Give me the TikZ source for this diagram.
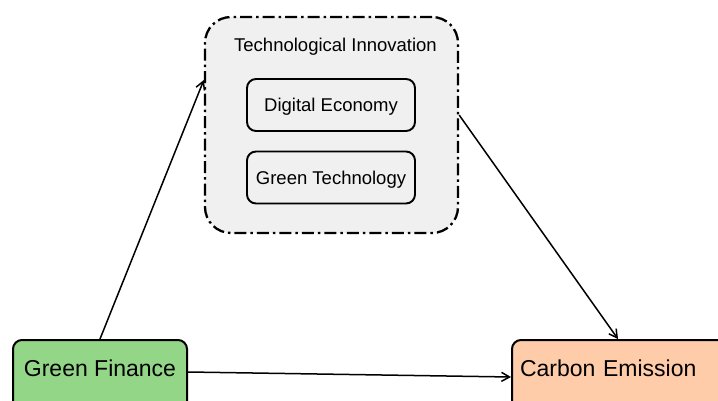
\documentclass[tikz,border=0pt]{standalone}
\usepackage{fontspec}
\setmainfont{Liberation Sans}
\usetikzlibrary{arrows.meta}
\definecolor{finance}{HTML}{93D687}
\definecolor{emission}{HTML}{FFCCAA}
\definecolor{innov}{HTML}{F0F0F0}
\begin{document}
\begin{tikzpicture}[x=1pt,y=-1pt,>={Straight Barb[length=8pt,width=9pt]},
  bigbox/.style={draw,line width=2pt,rounded corners=9pt,font=\fontsize{23}{26}\selectfont,
    text height=12pt,text depth=12pt,minimum height=72pt},
  subbox/.style={draw,line width=1.9pt,rounded corners=9pt,fill=innov,font=\fontsize{18.5}{21}\selectfont,
    minimum width=168pt,minimum height=52pt,text height=14pt,text depth=0pt}]
 	\useasboundingbox (0,0) rectangle (718,401);
 	% mediator block
 	\node[draw,line width=2.3pt,dash pattern=on 12pt off 4pt on 2.5pt off 4pt,rounded corners=26pt,
 	  fill=innov,minimum width=253pt,minimum height=216pt] (TI) at (331.5,125) {};
 	\node[anchor=base,font=\fontsize{18.5}{21}\selectfont] (title) at ([xshift=4pt,yshift=-36pt]TI.north) {Technological Innovation};
 	\node[subbox] (DE) at (331,105) {Digital Economy};
 	\node[subbox] (GT) at (331,177.5) {Green Technology};
 	% outer blocks
 	\node[bigbox,fill=finance,minimum width=174pt] (GF) at (100,376) {Green Finance};
 	\node[bigbox,fill=emission,anchor=west,text width=204pt,inner xsep=8pt,align=left] (CE) at (511,376) {Carbon Emission};
 	% arrow ends
 	\coordinate (TIin) at ([yshift=45pt]TI.west);
 	\coordinate (TIout) at ([yshift=10pt]TI.east);
 	\coordinate (CEtop) at ([xshift=107pt]CE.north west);
 	\coordinate (GFout) at ([yshift=4pt]GF.east);
 	\coordinate (CEin) at ([yshift=-1pt]CE.west);
 	\foreach \a/\b in {GF.north/TIin, TIout/CEtop, GFout/CEin}{%
 	\draw[->,line width=1.5pt] (\a)--(\b);
 	}%
\end{tikzpicture}
\end{document}
